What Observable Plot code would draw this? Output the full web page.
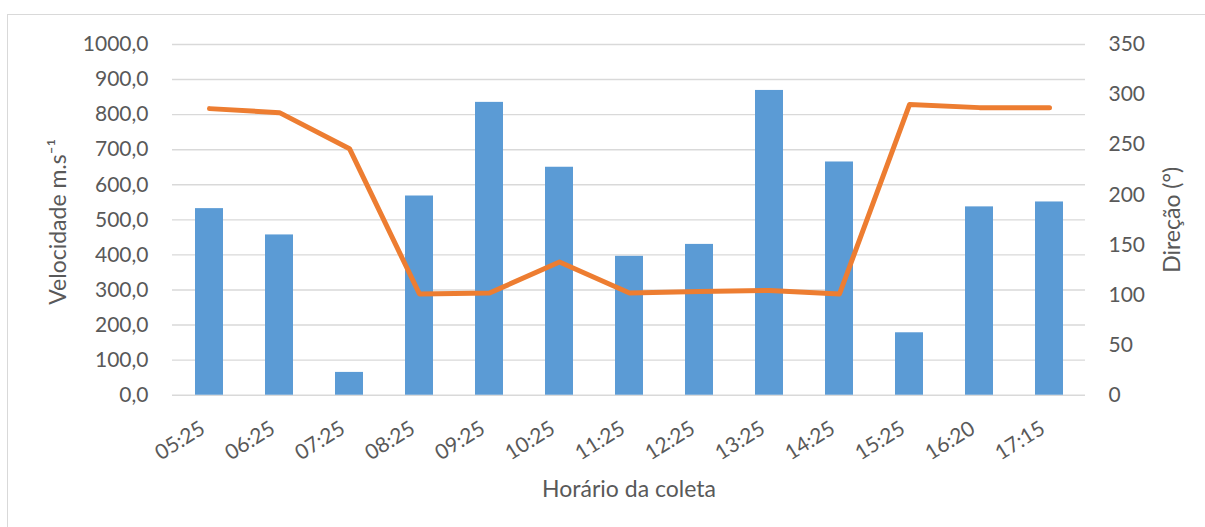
<!DOCTYPE html>
<html>
<head>
<meta charset="utf-8">
<script src="https://cdn.jsdelivr.net/npm/d3@7"></script>
<script src="https://cdn.jsdelivr.net/npm/@observablehq/plot@0.6"></script>
<style>
  html, body { margin: 0; padding: 0; background: #fff; }
  #wrap { position: relative; width: 1205px; height: 527px; overflow: hidden; }
  #border { position: absolute; left: 7px; top: 14px; width: 1400px; height: 700px; border: 1.5px solid #d9d9d9; box-sizing: border-box; }
  #chart { position: absolute; left: 0; top: 0; }
</style>
</head>
<body>
<div id="wrap"><div id="border"></div><div id="chart"></div></div>
<script>
const times = ["05:25","06:25","07:25","08:25","09:25","10:25","11:25","12:25","13:25","14:25","15:25","16:20","17:15"];
const velocidade = [532, 457, 65, 568, 835, 650, 396, 430, 869, 665, 178, 537, 551];
const direcao = [286, 282, 246, 101, 102, 133, 102, 103.5, 104.5, 101, 290, 287, 287];
const leftTicks = [0,100,200,300,400,500,600,700,800,900,1000];
const rightTicks = [0,50,100,150,200,250,300,350];
const leftMax = 1000, rightMax = 350;
const k = leftMax / rightMax;

const data = times.map((t, i) => ({t, v: velocidade[i], d: direcao[i]}));
const txt = "#595959";
const font = "Lato, 'Open Sans', sans-serif";

const chart = Plot.plot({
  width: 1205,
  height: 527,
  marginLeft: 172,
  marginRight: 120,
  marginTop: 44,
  marginBottom: 132.3,
  style: {fontFamily: font, color: txt, background: "transparent"},
  x: {domain: times, paddingInner: 0.6, paddingOuter: 0.3},
  y: {domain: [0, leftMax]},
  marks: [
    Plot.gridY(leftTicks, {stroke: "#d9d9d9", strokeOpacity: 1, strokeWidth: 1.4}),
    Plot.barY(data, {x: "t", y: "v", fill: "#5B9BD5"}),
    Plot.line(data, {x: "t", y: d => d.d * k, stroke: "#ED7D31", strokeWidth: 5, strokeLinecap: "round", strokeLinejoin: "round"}),
    Plot.axisY(leftTicks, {anchor: "left", tickSize: 0, tickPadding: 24, fontSize: 21, fill: txt, label: null,
      tickFormat: d => d.toFixed(1).replace(".", ",")}),
    Plot.axisY(rightTicks.map(v => v * k), {anchor: "right", tickSize: 0, tickPadding: 23, fontSize: 21, fill: txt, label: null,
      tickFormat: d => String(Math.round(d / k))}),
    Plot.axisX({tickSize: 0, tickPadding: 0, tickRotate: -32, fontSize: 21, fill: txt, label: null,
      textAnchor: "end", lineAnchor: "bottom", dx: -3, dy: 37}),
    Plot.text(["Horário da coleta"], {text: d => d, frameAnchor: "bottom", textAnchor: "middle", lineAnchor: "bottom", dy: 102, fontSize: 23, fill: txt}),
    Plot.text(["Velocidade m.s⁻¹"], {text: d => d, frameAnchor: "left", textAnchor: "middle", rotate: -90, lineAnchor: "middle", dx: -114, dy: 2, fontSize: 23, fill: txt}),
    Plot.text(["Direção (°)"], {text: d => d, frameAnchor: "right", textAnchor: "middle", rotate: -90, lineAnchor: "middle", dx: 87, fontSize: 23, fill: txt})
  ]
});
document.getElementById("chart").appendChild(chart);
</script>
</body>
</html>
